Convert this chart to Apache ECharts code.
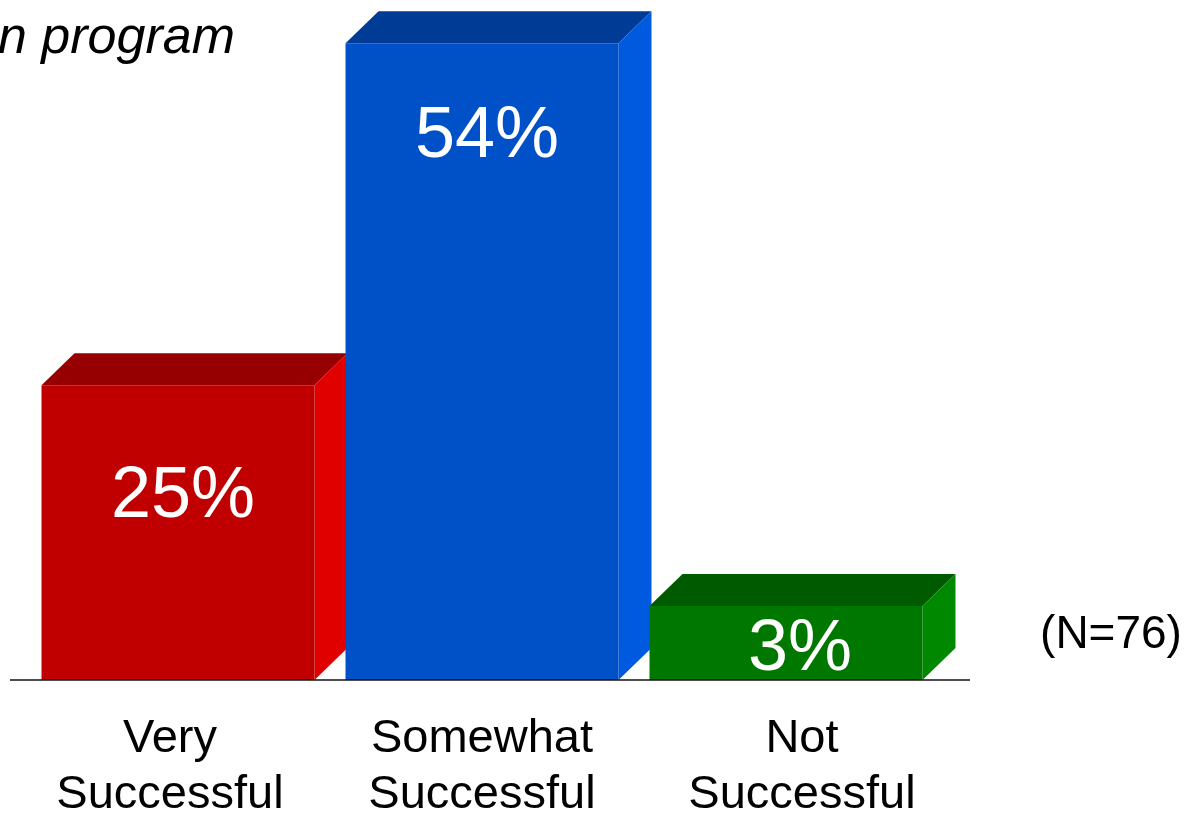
<!DOCTYPE html>
<html>
<head>
<meta charset="utf-8">
<title>Program success ratings</title>
<script src="https://cdn.jsdelivr.net/npm/echarts@6/dist/echarts.min.js"></script>
<style>
  html, body { margin: 0; padding: 0; background: #ffffff; }
  #chart { width: 1186px; height: 815px; }
</style>
</head>
<body>
<div id="chart"></div>
<script>
// ---- data ----
const categories = ['Very\nSuccessful', 'Somewhat\nSuccessful', 'Not\nSuccessful'];
const values = [25, 54, 3];
const sampleNote = '(N=76)';
const titleText = 'n program';

// ---- styles ----
const FONT = '"Liberation Sans", Arial, Helvetica, sans-serif';
const faceColors = [
  { front: '#C00000', top: '#960000', side: '#E00000' },
  { front: '#0050C8', top: '#003C96', side: '#005AE0' },
  { front: '#007800', top: '#005A00', side: '#008800' }
];
const labelDrop = [112, 94, 44];   // distance from the bar's top edge to its value label
const labelNudge = [5, 5, 14];     // horizontal nudge of each value label
const axisLabelStyles = ['left', 'mid', 'right'];
const DEPTH_X = 33;                // 3-D extrusion of each column
const DEPTH_Y = 32;
const BAR_RATIO = 0.898;           // front face width as a share of the category band
const MIN_BAR_PX = 74;             // like barMinHeight: small values stay readable

const GRID = { left: 26, right: 248, top: 8, bottom: 135, outerBoundsMode: 'none', containLabel: false };
const baseY = 815 - GRID.bottom;

const chart = echarts.init(document.getElementById('chart'), null, { renderer: 'canvas' });

function renderColumn(params, api) {
  const i = params.dataIndex;
  const v = api.value(1);
  const base = api.coord([i, 0]);
  const head = api.coord([i, v]);
  const h = Math.max(base[1] - head[1], MIN_BAR_PX);
  const bw = api.size([1, 0])[0] * BAR_RATIO;
  const x0 = base[0] - bw / 2;
  const x1 = base[0] + bw / 2;
  const yb = base[1];
  const yt = yb - h;
  const c = faceColors[i];
  return {
    type: 'group',
    children: [
      {
        type: 'polygon',
        shape: { points: [[x0, yt], [x0 + DEPTH_X, yt - DEPTH_Y], [x1 + DEPTH_X, yt - DEPTH_Y], [x1, yt]] },
        style: { fill: c.top }
      },
      {
        type: 'polygon',
        shape: { points: [[x1, yt], [x1 + DEPTH_X, yt - DEPTH_Y], [x1 + DEPTH_X, yb - DEPTH_Y], [x1, yb]] },
        style: { fill: c.side }
      },
      {
        type: 'rect',
        shape: { x: x0, y: yt, width: bw, height: yb - yt },
        style: { fill: c.front }
      },
      {
        type: 'text',
        style: {
          text: v + '%',
          x: base[0] + labelNudge[i],
          y: yt + labelDrop[i],
          fill: '#ffffff',
          font: '72px ' + FONT,
          align: 'center',
          verticalAlign: 'middle'
        }
      }
    ]
  };
}

const labelRich = {};
const richBase = { color: '#000000', fontFamily: FONT, fontSize: 47, lineHeight: 56 };
labelRich.left = Object.assign({ padding: [0, 16, 0, 0] }, richBase);
labelRich.mid = Object.assign({}, richBase);
labelRich.right = Object.assign({ padding: [0, 0, 0, 32] }, richBase);

const option = {
  backgroundColor: '#ffffff',
  animation: false,
  grid: GRID,
  xAxis: {
    type: 'category',
    data: categories,
    axisLine: { show: false },
    axisTick: { show: false },
    axisLabel: {
      color: '#000000',
      fontFamily: FONT,
      fontSize: 47,
      lineHeight: 56,
      margin: 31,
      interval: 0,
      formatter: function (value, idx) {
        const key = axisLabelStyles[idx];
        return value.split('\n').map(function (line) { return '{' + key + '|' + line + '}'; }).join('\n');
      },
      rich: labelRich
    }
  },
  yAxis: {
    type: 'value',
    min: 0,
    max: 57,
    show: false,
    splitLine: { show: false }
  },
  series: [{
    type: 'custom',
    renderItem: renderColumn,
    encode: { x: 0, y: 1 },
    data: values.map((v, i) => [i, v]),
    z: 2
  }],
  graphic: [
    {
      type: 'text',
      x: -2,
      y: 39,
      style: {
        text: titleText,
        font: 'italic 52px ' + FONT,
        fill: '#000000',
        align: 'left',
        verticalAlign: 'middle'
      }
    },
    {
      type: 'text',
      x: 1111,
      y: 635,
      style: {
        text: sampleNote,
        font: '46px ' + FONT,
        fill: '#000000',
        align: 'center',
        verticalAlign: 'middle'
      }
    },
    {
      type: 'line',
      z: 100,
      shape: { x1: 10, y1: baseY, x2: 970, y2: baseY },
      style: { stroke: '#111111', lineWidth: 1.5 }
    }
  ]
};

chart.setOption(option);
</script>
</body>
</html>
